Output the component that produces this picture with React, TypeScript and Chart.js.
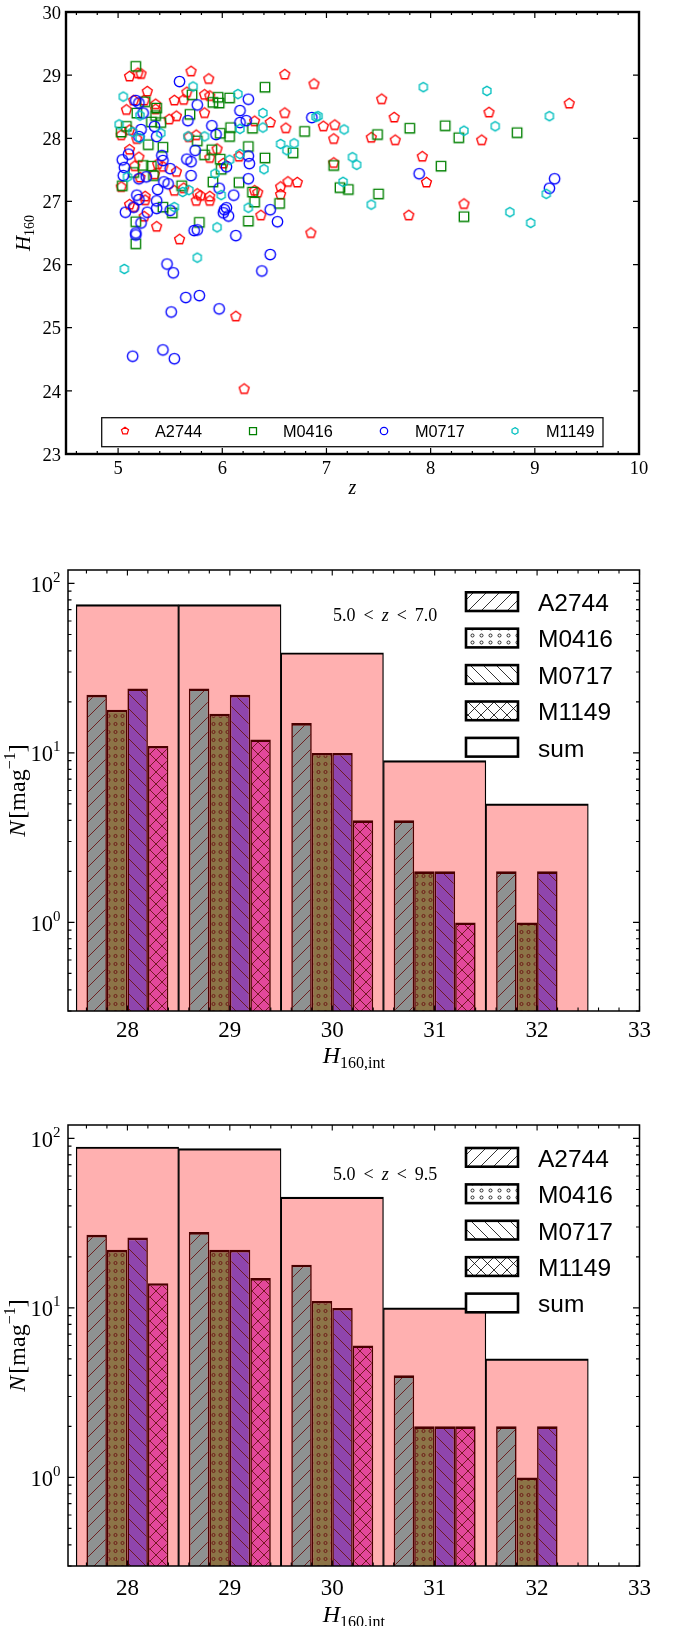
import React, { useEffect, useRef } from "react";
import { Chart, registerables } from "chart.js";

Chart.register(...registerables);

const SERIF = "'Liberation Serif','DejaVu Serif',serif";
const SANS = "'Liberation Sans','DejaVu Sans',Arial,sans-serif";

// ---------------- Panel 1: H160 vs z ----------------
const a2744Points: [number, number][] = [
  [5.11, 28.98], [5.19, 29.03], [5.22, 29.02], [5.7, 29.06], [5.87, 28.94], [6.6, 29.01], [6.88, 28.86],
  [5.28, 28.74], [5.66, 28.73], [5.83, 28.69], [5.88, 28.67], [5.15, 28.6], [5.25, 28.6], [5.54, 28.6], [5.63, 28.61],
  [5.08, 28.45], [5.36, 28.54], [5.36, 28.46], [5.49, 28.3], [5.56, 28.35], [5.83, 28.4], [6.31, 28.27], [6.46, 28.25], [6.6, 28.4],
  [5.11, 28.13], [5.03, 28.05], [6.61, 28.16], [6.97, 28.19], [5.18, 27.99], [5.68, 28.02], [5.75, 28.05], [7.07, 27.99],
  [5.11, 27.82], [5.95, 27.83], [5.88, 27.69], [6.16, 27.71], [5.2, 27.7],
  [5.16, 27.56], [5.38, 27.59], [5.43, 27.55], [5.56, 27.47], [6.01, 27.6], [5.35, 27.43], [5.21, 27.38],
  [6.63, 27.31], [6.56, 27.23], [6.72, 27.3], [5.03, 27.23], [5.63, 27.21], [5.54, 27.17], [6.31, 27.17], [6.34, 27.14], [6.56, 27.11],
  [5.26, 27.08], [5.26, 27.02], [5.76, 27.12], [5.79, 27.09], [5.88, 27.08], [5.88, 27.01], [5.75, 27.01], [5.11, 26.95], [5.15, 26.91],
  [5.25, 26.76], [6.37, 26.78], [5.37, 26.6], [6.85, 26.5], [5.59, 26.4], [6.13, 25.18], [6.21, 24.03],
  [7.53, 28.62], [9.33, 28.55], [8.56, 28.41], [7.65, 28.33], [7.08, 28.21], [7.43, 28.01], [7.66, 27.97], [8.49, 27.97],
  [7.07, 27.61], [7.92, 27.71], [7.96, 27.3], [7.79, 26.78], [8.32, 26.96],
];
const m0416Points: [number, number][] = [
  [5.17, 29.14], [5.71, 28.69], [5.96, 28.65], [5.97, 28.56], [5.91, 28.57], [6.07, 28.64], [6.41, 28.81], [5.26, 28.58],
  [5.18, 28.4], [5.37, 28.48], [5.36, 28.36], [5.69, 28.38], [5.32, 28.26], [5.41, 28.25], [5.08, 28.19], [5.03, 28.1],
  [6.08, 28.17], [6.29, 28.16], [6.79, 28.11], [5.98, 28.08], [6.07, 28.03], [5.29, 27.9], [5.43, 27.86], [5.76, 27.96],
  [5.9, 27.82], [6.25, 27.87], [6.68, 27.77], [5.83, 27.74], [5.98, 27.67], [6.41, 27.69],
  [5.24, 27.57], [5.32, 27.56], [5.99, 27.51], [5.15, 27.46], [5.34, 27.41], [5.91, 27.31], [6.16, 27.3], [5.04, 27.25],
  [5.61, 27.25], [6.29, 27.15], [6.31, 26.99], [6.55, 26.97], [5.43, 26.91], [5.52, 26.82], [6.25, 26.69], [5.78, 26.67],
  [5.17, 26.68], [5.17, 26.33],
  [7.49, 28.06], [7.8, 28.16], [8.14, 28.2], [8.27, 28.01], [8.83, 28.09], [7.07, 27.57], [8.1, 27.56], [7.13, 27.22],
  [7.21, 27.19], [7.5, 27.12], [8.32, 26.76],
];
const m0717Points: [number, number][] = [
  [5.59, 28.9], [6.25, 28.62], [5.17, 28.6], [5.2, 28.56], [5.76, 28.53], [5.24, 28.4], [5.67, 28.28], [6.17, 28.44],
  [6.17, 28.25], [6.23, 28.28], [6.86, 28.33], [5.22, 28.14], [5.35, 28.19], [5.9, 28.2], [5.94, 28.06], [5.37, 28.03], [5.2, 28.03],
  [5.74, 27.81], [5.1, 27.75], [5.42, 27.73], [6.25, 27.72], [5.04, 27.66], [5.43, 27.65], [5.66, 27.67], [5.7, 27.63],
  [5.06, 27.54], [5.5, 27.52], [6.04, 27.55], [6.26, 27.6], [5.05, 27.41], [5.2, 27.36], [5.27, 27.39], [5.7, 27.41],
  [6.25, 27.36], [5.44, 27.31], [5.48, 27.28], [5.38, 27.19], [5.97, 27.21], [6.11, 27.1], [5.18, 27.1], [5.2, 27.03], [5.37, 27.01],
  [5.15, 26.91], [5.37, 26.89], [5.5, 26.86], [5.28, 26.83], [5.07, 26.83], [6.04, 26.9], [6.02, 26.87], [6.01, 26.82],
  [6.06, 26.77], [6.46, 26.87], [6.53, 26.68], [5.22, 26.66], [5.73, 26.54], [5.76, 26.55], [5.17, 26.5], [5.17, 26.47], [6.13, 26.46],
  [5.47, 26.01], [5.53, 25.87], [6.46, 26.16], [6.38, 25.9], [5.65, 25.48], [5.78, 25.51], [5.51, 25.25], [5.97, 25.3],
  [5.14, 24.55], [5.43, 24.65], [5.54, 24.51],
  [7.89, 27.44], [9.19, 27.36], [9.14, 27.21],
];
const m1149Points: [number, number][] = [
  [5.05, 28.66], [5.72, 28.82], [6.15, 28.7], [5.21, 28.36], [6.17, 28.15], [6.39, 28.4], [6.9, 28.34], [6.92, 28.35],
  [5.01, 28.22], [5.14, 28.1], [6.39, 28.17], [5.41, 28.08], [5.21, 28.0], [5.67, 28.03], [5.83, 28.03], [6.56, 27.91],
  [6.62, 27.81], [6.69, 27.92], [6.17, 27.75], [6.07, 27.66], [5.93, 27.44], [6.4, 27.51], [5.09, 27.39], [5.68, 27.18],
  [5.62, 27.15], [5.99, 27.1], [5.54, 26.91], [6.25, 26.9], [5.95, 26.59],
  [5.06, 25.93], [5.76, 26.11],
  [7.93, 28.81], [8.54, 28.75], [9.14, 28.35], [7.17, 28.14], [8.32, 28.12], [8.62, 28.19], [7.25, 27.7], [7.29, 27.58],
  [7.16, 27.31], [7.43, 26.95], [9.11, 27.12], [8.76, 26.83], [8.96, 26.66],
];
const zTicks = [5, 6, 7, 8, 9, 10];
const hTicks = [23, 24, 25, 26, 27, 28, 29, 30];

// ---------------- Panels 2/3: histograms ----------------
const clusterNames = ["A2744", "M0416", "M0717", "M1149"];
const magBins = [28, 29, 30, 31, 32];
const magTicks = [28, 29, 30, 31, 32, 33];
// 5.0 < z < 7.0
const lowA2744 = [22, 24, 15, 4, 2];
const lowM0416 = [18, 17, 10, 2, 1];
const lowM0717 = [24, 22, 10, 2, 2];
const lowM1149 = [11, 12, 4, 1, null];
const lowSum = [75, 75, 39, 9, 5];
// 5.0 < z < 9.5
const allA2744 = [27, 28, 18, 4, 2];
const allM0416 = [22, 22, 11, 2, 1];
const allM0717 = [26, 22, 10, 2, 2];
const allM1149 = [14, 15, 6, 2, null];
const allSum = [89, 87, 45, 10, 5];
const logMajor = [1, 10, 100];
const logMajorExp = ["0", "1", "2"];
const logMinor = [0.3, 0.4, 0.5, 0.6, 0.7, 0.8, 0.9, 2, 3, 4, 5, 6, 7, 8, 9, 20, 30, 40, 50, 60, 70, 80, 90];

type Part = { t: string; f: string; dy?: number; gap?: number };

function drawRich(ctx: CanvasRenderingContext2D, parts: Part[], x: number, y: number, align: "left" | "center" | "right") {
  let w = 0;
  for (const p of parts) {
    ctx.font = p.f;
    w += ctx.measureText(p.t).width + (p.gap || 0);
  }
  let cx = align === "center" ? x - w / 2 : align === "right" ? x - w : x;
  ctx.textAlign = "left";
  ctx.textBaseline = "alphabetic";
  for (const p of parts) {
    ctx.font = p.f;
    ctx.fillText(p.t, cx, y + (p.dy || 0));
    cx += ctx.measureText(p.t).width + (p.gap || 0);
  }
}

function markerCanvas(kind: string, color: string, r: number, lw: number): HTMLCanvasElement {
  const size = Math.ceil(2 * r + lw + 3);
  const c = document.createElement("canvas");
  c.width = size;
  c.height = size;
  const g = c.getContext("2d")!;
  g.strokeStyle = color;
  g.lineWidth = lw;
  const cx = size / 2;
  const cy = size / 2;
  g.beginPath();
  if (kind === "circle") {
    g.arc(cx, cy, r, 0, Math.PI * 2);
  } else if (kind === "square") {
    g.rect(cx - r, cy - r, 2 * r, 2 * r);
  } else {
    const n = kind === "pentagon" ? 5 : 6;
    for (let i = 0; i < n; i++) {
      const ang = -Math.PI / 2 + (i * 2 * Math.PI) / n;
      const px = cx + r * Math.cos(ang);
      const py = cy + r * Math.sin(ang);
      if (i === 0) g.moveTo(px, py);
      else g.lineTo(px, py);
    }
    g.closePath();
  }
  g.stroke();
  return c;
}

function makePattern(bg: string, fg: string, kind: string, w: number, h: number, lw: number): CanvasPattern {
  const c = document.createElement("canvas");
  c.width = w;
  c.height = h;
  const g = c.getContext("2d")!;
  g.fillStyle = bg;
  g.fillRect(0, 0, w, h);
  g.strokeStyle = fg;
  g.lineWidth = lw;
  const fwd = () => {
    for (const k of [-1, 0, 1]) {
      g.beginPath();
      g.moveTo(k * w, h);
      g.lineTo(k * w + w, 0);
      g.stroke();
    }
  };
  const back = () => {
    for (const k of [-1, 0, 1]) {
      g.beginPath();
      g.moveTo(k * w, 0);
      g.lineTo(k * w + w, h);
      g.stroke();
    }
  };
  if (kind === "fwd") fwd();
  if (kind === "back") back();
  if (kind === "cross") {
    fwd();
    back();
  }
  if (kind === "dots") {
    g.beginPath();
    g.arc(w / 2, h / 2, Math.min(w, h) * 0.22, 0, Math.PI * 2);
    g.stroke();
  }
  return g.createPattern(c, "repeat")!;
}

function makeScatter(canvas: HTMLCanvasElement): Chart {
  const colors = ["#ff0000", "#008000", "#0000ff", "#00bfbf"];
  const kinds = ["pentagon", "square", "circle", "hexagon"];
  const bigR = [5.2, 4.7, 5.2, 4.6];
  const smallR = [3.7, 3.5, 3.7, 3.4];
  const marks = kinds.map((k, i) => markerCanvas(k, colors[i], bigR[i], 1.35));
  const legMarks = kinds.map((k, i) => markerCanvas(k, colors[i], smallR[i], 1.25));
  const sets = [a2744Points, m0416Points, m0717Points, m1149Points];

  const decor = {
    id: "scatterDecor",
    afterDraw(chart: any) {
      const { ctx, chartArea: a } = chart;
      const x = chart.scales.x;
      const y = chart.scales.y;
      ctx.save();
      ctx.strokeStyle = "#000";
      ctx.lineWidth = 1.2;
      const vt = (px: number, len: number) => {
        ctx.beginPath();
        ctx.moveTo(px, a.bottom);
        ctx.lineTo(px, a.bottom - len);
        ctx.moveTo(px, a.top);
        ctx.lineTo(px, a.top + len);
        ctx.stroke();
      };
      const ht = (py: number, len: number) => {
        ctx.beginPath();
        ctx.moveTo(a.left, py);
        ctx.lineTo(a.left + len, py);
        ctx.moveTo(a.right, py);
        ctx.lineTo(a.right - len, py);
        ctx.stroke();
      };
      for (let i = 0; i < zTicks.length - 1; i++) {
        for (let k = 1; k < 5; k++) vt(x.getPixelForValue(zTicks[i] + k * 0.2), 3);
      }
      vt(x.getPixelForValue(4.6), 3);
      vt(x.getPixelForValue(4.8), 3);
      for (const v of zTicks) vt(x.getPixelForValue(v), 6);
      for (const v of hTicks) ht(y.getPixelForValue(v), 6);
      ctx.lineWidth = 2.4;
      ctx.strokeRect(a.left, a.top, a.right - a.left, a.bottom - a.top);

      ctx.fillStyle = "#000";
      const tf = `18.5px ${SERIF}`;
      for (const v of zTicks) drawRich(ctx, [{ t: String(v), f: tf }], x.getPixelForValue(v), a.bottom + 19.5, "center");
      for (const v of hTicks) drawRich(ctx, [{ t: String(v), f: tf }], a.left - 5, y.getPixelForValue(v) + 6.7, "right");
      drawRich(ctx, [{ t: "z", f: `italic 20px ${SERIF}` }], (a.left + a.right) / 2, 494, "center");
      ctx.save();
      ctx.translate(30, (a.top + a.bottom) / 2);
      ctx.rotate(-Math.PI / 2);
      drawRich(ctx, [{ t: "H", f: `italic 21px ${SERIF}` }, { t: "160", f: `14px ${SERIF}`, dy: 4 }], 0, 0, "center");
      ctx.restore();

      // legend
      ctx.fillStyle = "#fff";
      ctx.fillRect(101.7, 417.7, 501.3, 29);
      ctx.lineWidth = 1.3;
      ctx.strokeStyle = "#111";
      ctx.strokeRect(101.7, 417.7, 501.3, 29);
      const mx = [125, 253, 384, 515];
      const tx = [155, 283, 415, 546];
      ctx.fillStyle = "#000";
      for (let i = 0; i < 4; i++) {
        const m = legMarks[i];
        ctx.drawImage(m, mx[i] - m.width / 2, 431 - m.height / 2);
        drawRich(ctx, [{ t: clusterNames[i], f: `16.3px ${SANS}` }], tx[i], 436.7, "left");
      }
      ctx.restore();
    },
  };

  return new Chart(canvas, {
    type: "scatter",
    data: {
      datasets: sets.map((pts, i) => ({
        label: clusterNames[i],
        data: pts.map(([z, h]) => ({ x: z, y: h })),
        pointStyle: marks[i] as any,
        pointRadius: 5,
        borderColor: colors[i],
        backgroundColor: "rgba(0,0,0,0)",
        order: 3 - i,
      })),
    },
    options: {
      responsive: false,
      animation: false,
      events: [],
      layout: { padding: { top: 12, right: 39, left: 0, bottom: 0 } },
      plugins: { legend: { display: false }, tooltip: { enabled: false } },
      scales: {
        x: {
          type: "linear",
          min: 4.5,
          max: 10,
          ticks: { display: false },
          grid: { display: false },
          border: { display: false },
          afterFit: (s: any) => {
            s.height = 46;
          },
        },
        y: {
          type: "linear",
          min: 23,
          max: 30,
          ticks: { display: false },
          grid: { display: false },
          border: { display: false },
          afterFit: (s: any) => {
            s.width = 66;
          },
        },
      },
    } as any,
    plugins: [decor],
  });
}

type HistCfg = {
  series: (number | null)[][];
  sum: number[];
  hi: string;
  xHeight: number;
  tickDy: number;
  xlabDy: number;
  rangeDy: number;
  legTop: number;
};

function makeHist(canvas: HTMLCanvasElement, cfg: HistCfg): Chart {
  const edge = "#4a0000";
  const hatch = "#6a1414";
  const barPats = [
    makePattern("#8e9292", hatch, "fwd", 15, 15, 0.9),
    makePattern("#8c7447", hatch, "dots", 7, 8, 0.9),
    makePattern("#8f45ad", hatch, "back", 15, 15, 0.9),
    makePattern("#e3489b", hatch, "cross", 12, 12, 0.9),
  ];
  const legPats = [
    makePattern("#fff", "#000", "fwd", 13, 13, 0.8),
    makePattern("#fff", "#000", "dots", 9, 7, 0.8),
    makePattern("#fff", "#000", "back", 13, 13, 0.8),
    makePattern("#fff", "#000", "cross", 13, 13, 0.8),
    "#fff",
  ];
  const legNames = [...clusterNames, "sum"];

  const decor = {
    id: "histDecor",
    afterDraw(chart: any) {
      const { ctx, chartArea: a } = chart;
      const x = chart.scales.x;
      const y = chart.scales.y;
      ctx.save();
      ctx.strokeStyle = "#000";
      ctx.lineWidth = 1.1;
      const vt = (px: number, len: number) => {
        ctx.beginPath();
        ctx.moveTo(px, a.bottom);
        ctx.lineTo(px, a.bottom - len);
        ctx.moveTo(px, a.top);
        ctx.lineTo(px, a.top + len);
        ctx.stroke();
      };
      const ht = (py: number, len: number) => {
        ctx.beginPath();
        ctx.moveTo(a.left, py);
        ctx.lineTo(a.left + len, py);
        ctx.moveTo(a.right, py);
        ctx.lineTo(a.right - len, py);
        ctx.stroke();
      };
      for (const v of [27.6, 27.8]) vt(x.getPixelForValue(v), 3.5);
      for (let i = 0; i < magTicks.length - 1; i++) {
        for (let k = 1; k < 5; k++) vt(x.getPixelForValue(magTicks[i] + k * 0.2), 3.5);
      }
      for (const v of magTicks) vt(x.getPixelForValue(v), 5.5);
      for (const v of logMinor) ht(y.getPixelForValue(v), 3.5);
      for (const v of logMajor) ht(y.getPixelForValue(v), 6.5);
      ctx.lineWidth = 1.5;
      ctx.strokeRect(a.left, a.top, a.right - a.left, a.bottom - a.top);

      ctx.fillStyle = "#000";
      const tf = `23px ${SERIF}`;
      for (const v of magTicks) drawRich(ctx, [{ t: String(v), f: tf }], x.getPixelForValue(v), a.bottom + cfg.tickDy, "center");
      logMajor.forEach((v, i) => {
        drawRich(
          ctx,
          [
            { t: "10", f: `22.5px ${SERIF}` },
            { t: logMajorExp[i], f: `15px ${SERIF}`, dy: -10 },
          ],
          60.5,
          y.getPixelForValue(v) + 8.5,
          "right"
        );
      });
      // x label
      drawRich(
        ctx,
        [
          { t: "H", f: `italic 24px ${SERIF}` },
          { t: "160,int", f: `16px ${SERIF}`, dy: 5 },
        ],
        (a.left + a.right) / 2,
        a.bottom + cfg.xlabDy,
        "center"
      );
      // y label
      ctx.save();
      ctx.translate(25, (a.top + a.bottom) / 2);
      ctx.rotate(-Math.PI / 2);
      drawRich(
        ctx,
        [
          { t: "N", f: `italic 24px ${SERIF}`, gap: 2 },
          { t: "[mag", f: `24px ${SERIF}` },
          { t: "\u22121", f: `16px ${SERIF}`, dy: -10 },
          { t: "]", f: `24px ${SERIF}` },
        ],
        0,
        0,
        "center"
      );
      ctx.restore();
      // range text
      const rf = `18px ${SERIF}`;
      drawRich(
        ctx,
        [
          { t: "5.0", f: rf, gap: 8 },
          { t: "<", f: rf, gap: 8 },
          { t: "z", f: `italic 18px ${SERIF}`, gap: 8 },
          { t: "<", f: rf, gap: 8 },
          { t: cfg.hi, f: rf },
        ],
        333,
        a.top + cfg.rangeDy,
        "left"
      );
      // legend
      for (let i = 0; i < 5; i++) {
        const top = a.top + cfg.legTop + i * 36.4;
        ctx.fillStyle = legPats[i] as any;
        ctx.fillRect(466, top, 52, 18.7);
        ctx.lineWidth = 2.6;
        ctx.strokeStyle = "#000";
        ctx.strokeRect(466, top, 52, 18.7);
        ctx.fillStyle = "#000";
        drawRich(ctx, [{ t: legNames[i], f: `24.5px ${SANS}` }], 538, top + 18.7, "left");
      }
      ctx.restore();
    },
  };

  const datasets: any[] = cfg.series.map((vals, i) => ({
    label: clusterNames[i],
    data: magBins.map((b, j) => ({ x: b, y: vals[j] })),
    backgroundColor: barPats[i],
    borderColor: edge,
    borderWidth: { top: 2.6, left: 1.6, right: 1.6, bottom: 0 },
    categoryPercentage: 0.8,
    barPercentage: 1,
    grouped: true,
    order: 1,
  }));
  datasets.push({
    label: "sum",
    data: magBins.map((b, j) => ({ x: b, y: cfg.sum[j] })),
    backgroundColor: "#ffb0b0",
    borderColor: "#000",
    borderWidth: { top: 2.2, left: 1.3, right: 1.3, bottom: 0 },
    categoryPercentage: 1,
    barPercentage: 1,
    grouped: false,
    order: 10,
  });

  return new Chart(canvas, {
    type: "bar",
    data: { datasets },
    options: {
      responsive: false,
      animation: false,
      events: [],
      layout: { padding: { top: 50, right: 38.5, left: 0, bottom: 0 } },
      plugins: { legend: { display: false }, tooltip: { enabled: false } },
      scales: {
        x: {
          type: "linear",
          min: 27.42,
          max: 33,
          offset: false,
          ticks: { display: false },
          grid: { display: false, offset: false },
          border: { display: false },
          afterBuildTicks: (s: any) => {
            s.ticks = magTicks.map((v) => ({ value: v }));
          },
          afterFit: (s: any) => {
            s.height = cfg.xHeight;
          },
        },
        y: {
          type: "logarithmic",
          min: 0.3,
          max: 120,
          ticks: { display: false },
          grid: { display: false },
          border: { display: false },
          afterFit: (s: any) => {
            s.width = 68;
          },
        },
      },
    } as any,
    plugins: [decor],
  });
}

export default function App() {
  const r1 = useRef<HTMLCanvasElement>(null);
  const r2 = useRef<HTMLCanvasElement>(null);
  const r3 = useRef<HTMLCanvasElement>(null);

  useEffect(() => {
    const charts = [
      makeScatter(r1.current!),
      makeHist(r2.current!, {
        series: [lowA2744, lowM0416, lowM0717, lowM1149],
        sum: lowSum,
        hi: "7.0",
        xHeight: 59,
        tickDy: 26,
        xlabDy: 52,
        rangeDy: 51,
        legTop: 22.3,
      }),
      makeHist(r3.current!, {
        series: [allA2744, allM0416, allM0717, allM1149],
        sum: allSum,
        hi: "9.5",
        xHeight: 60,
        tickDy: 29,
        xlabDy: 56,
        rangeDy: 55,
        legTop: 23,
      }),
    ];
    return () => charts.forEach((c) => c.destroy());
  }, []);

  return (
    <div style={{ position: "absolute", left: 0, top: 0, width: 678, height: 1626, background: "#fff" }}>
      <canvas ref={r1} width={678} height={500} style={{ position: "absolute", left: 0, top: 0, width: 678, height: 500 }} />
      <canvas ref={r2} width={678} height={550} style={{ position: "absolute", left: 0, top: 520, width: 678, height: 550 }} />
      <canvas ref={r3} width={678} height={551} style={{ position: "absolute", left: 0, top: 1075, width: 678, height: 551 }} />
    </div>
  );
}
